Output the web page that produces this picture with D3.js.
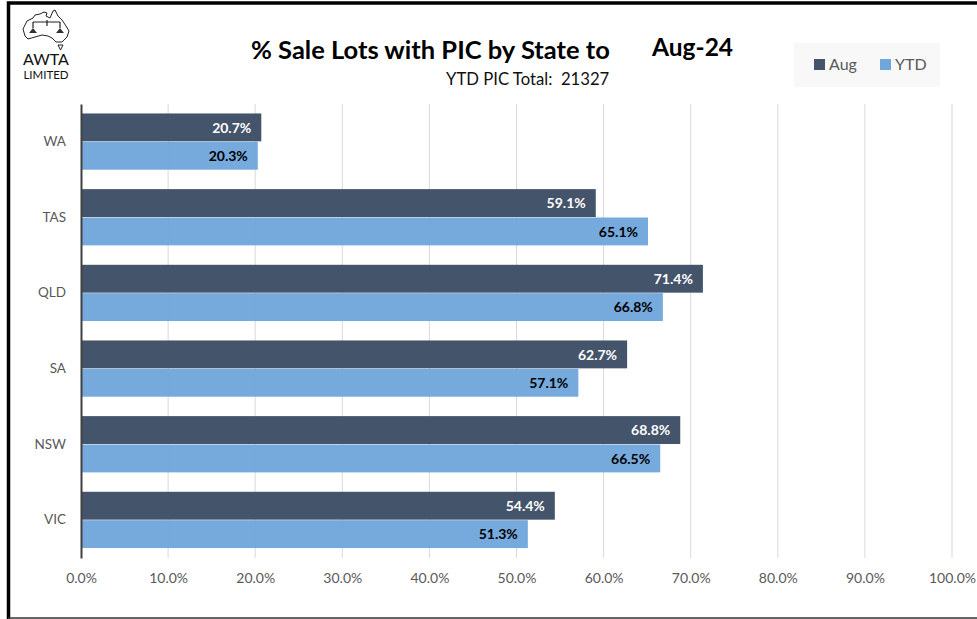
<!DOCTYPE html>
<html lang="en">
<head>
<meta charset="UTF-8">
<title>% Sale Lots with PIC by State</title>
<script src="https://d3js.org/d3.v7.min.js"></script>
<style>
    body { margin: 0; background: #fff; font-family: Lato, "Open Sans", sans-serif; }
    svg { display: block; }
    text { font-family: Lato, "Open Sans", sans-serif; }
</style>
</head>
<body>
<svg width="977" height="619"></svg>
<script>
// Data
var states = ["WA", "TAS", "QLD", "SA", "NSW", "VIC"];
var seriesNames = ["Aug", "YTD"];
var augValues = [20.7, 59.1, 71.4, 62.7, 68.8, 54.4];
var ytdValues = [20.3, 65.1, 66.8, 57.1, 66.5, 51.3];
var xTicks = [0, 10, 20, 30, 40, 50, 60, 70, 80, 90, 100];

var colors = { Aug: "#44546a", YTD: "#70a6db" };
var labelColors = { Aug: "#ffffff", YTD: "#000000" };

var svg = d3.select("svg");
var plot = { left: 81, right: 952, top: 104, bottom: 558 };

var x = d3.scaleLinear().domain([0, 100]).range([plot.left, plot.right]);
var y = d3.scaleBand().domain(states).range([plot.top, plot.bottom]).paddingInner(0.25).paddingOuter(0.125);
var ySeries = d3.scaleBand().domain(seriesNames).range([0, y.bandwidth()]);

// Outer frame
svg.append("path").attr("d", "M8.5,619V3H977").attr("fill", "none").attr("stroke", "#000").attr("stroke-width", 3.5);
svg.append("path").attr("d", "M8,618H977").attr("stroke", "#333").attr("stroke-width", 1.5);

// Gridlines
svg.append("g").selectAll("line")
    .data(xTicks.slice(1))
    .enter().append("line")
    .attr("x1", d => x(d)).attr("x2", d => x(d))
    .attr("y1", plot.top).attr("y2", plot.bottom)
    .attr("stroke", "#d9d9d9").attr("stroke-width", 1);

// Bars
var rows = [];
states.forEach(function(s, i) {
    rows.push({ state: s, series: "Aug", value: augValues[i] });
    rows.push({ state: s, series: "YTD", value: ytdValues[i] });
});

svg.append("g").selectAll("rect")
    .data(rows)
    .enter().append("rect")
    .attr("x", x(0))
    .attr("y", d => y(d.state) + ySeries(d.series))
    .attr("width", d => x(d.value) - x(0))
    .attr("height", ySeries.bandwidth() - 0.5)
    .attr("fill", d => colors[d.series])
    .attr("fill-opacity", d => d.series == "YTD" ? 0.96 : 1);

svg.append("g").selectAll("text")
    .data(rows)
    .enter().append("text")
    .attr("x", d => x(d.value) - 10)
    .attr("y", d => y(d.state) + ySeries(d.series) + ySeries.bandwidth() / 2)
    .attr("dy", "0.35em")
    .attr("text-anchor", "end")
    .attr("font-size", 14)
    .attr("font-weight", 700)
    .attr("fill", d => labelColors[d.series])
    .text(d => d.value.toFixed(1) + "%");

// Axes
var xAxis = svg.append("g")
    .attr("transform", "translate(0," + plot.bottom + ")")
    .call(d3.axisBottom(x).tickValues(xTicks).tickSize(0).tickPadding(15).tickFormat(d => d.toFixed(1) + "%"));
xAxis.select(".domain").remove();
xAxis.selectAll("text").attr("font-size", 14).attr("fill", "#595959").style("font-family", "Lato");

var yAxis = svg.append("g")
    .attr("transform", "translate(" + plot.left + ",0)")
    .call(d3.axisLeft(y).tickSize(0).tickPadding(15));
yAxis.select(".domain").attr("stroke", "#404040").attr("stroke-width", 2);
yAxis.selectAll("text").attr("font-size", 13.5).attr("fill", "#595959").style("font-family", "Lato");

// Titles
svg.append("text").attr("x", 251).attr("y", 59).attr("font-size", 25.5).attr("font-weight", 700).attr("fill", "#000")
    .text("% Sale Lots with PIC by State to");
svg.append("text").attr("x", 652).attr("y", 56).attr("font-size", 24.5).attr("font-weight", 700).attr("fill", "#000")
    .text("Aug-24");
svg.append("text").attr("x", 446).attr("y", 85).attr("font-size", 16.7).attr("fill", "#111")
    .text("YTD PIC Total:\u00a0 21327");

// Legend
svg.append("rect").attr("x", 794).attr("y", 43).attr("width", 146).attr("height", 44).attr("fill", "#f8f8f8");
var legend = svg.append("g").selectAll("g")
    .data(seriesNames)
    .enter().append("g")
    .attr("transform", (d, i) => "translate(" + [814, 880][i] + ",0)");
legend.append("rect").attr("y", 59).attr("width", 11).attr("height", 11).attr("fill", d => colors[d]);
legend.append("text").attr("x", 15).attr("y", 70).attr("font-size", 16).attr("fill", "#595959").text(d => d);

// AWTA logo
var logo = svg.append("g").attr("fill", "none").attr("stroke", "#222").attr("stroke-width", 1);
logo.append("path")
    .attr("d", "M23,29 L27,21 L33,18 L35,15 L40,14 L44,12 L47,13 L46,16 L50,18 L53,11 L55,10 L58,16 L62,20 L66,26 L69,31 L67,37 L62,42 L56,42 L52,38 L48,36 L42,35 L35,37 L28,39 L25,36 Z");
logo.append("path").attr("d", "M33,22H60 M33,22V28 M60,22V28 M47,20V26").attr("stroke-width", 1.2);
logo.append("path").attr("d", "M29,33H37L33,28Z M56,33H64L60,28Z").attr("fill", "#333").attr("stroke", "none");
logo.append("path").attr("d", "M58,45H63L60.5,50Z");
svg.append("text").attr("x", 46).attr("y", 65).attr("text-anchor", "middle").attr("font-size", 16).attr("fill", "#111").text("AWTA");
svg.append("text").attr("x", 46).attr("y", 79).attr("text-anchor", "middle").attr("font-size", 11.5).attr("fill", "#111").text("LIMITED");
</script>
</body>
</html>
